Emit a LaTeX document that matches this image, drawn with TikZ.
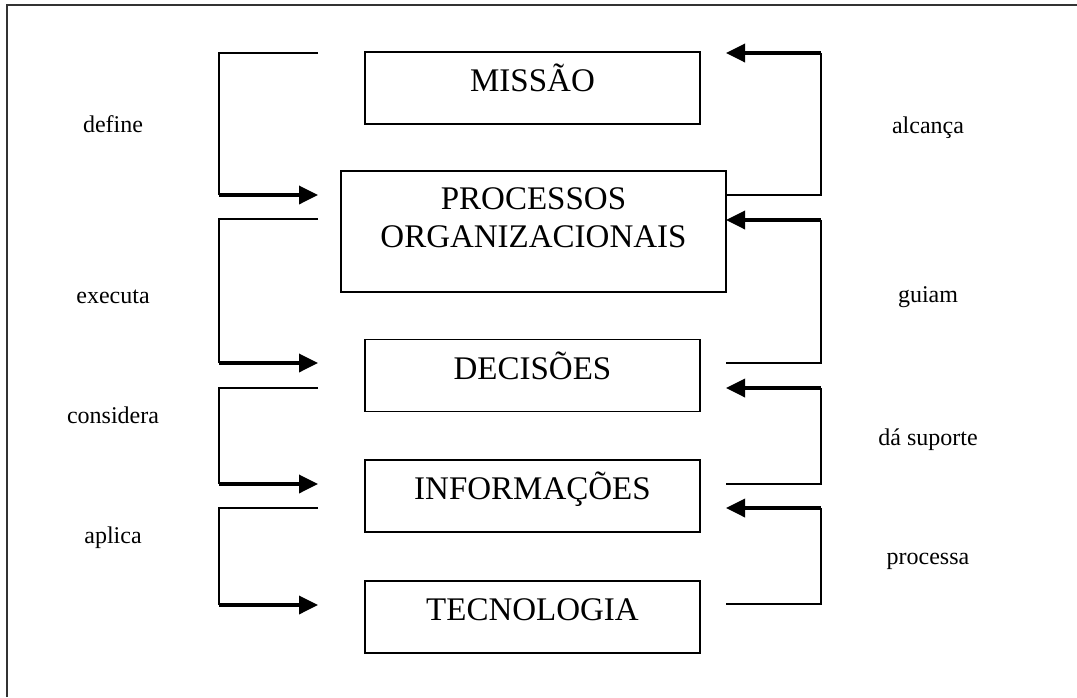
\documentclass[tikz,border=0pt]{standalone}
\usepackage{fontspec}
\setmainfont{Liberation Serif}
\usetikzlibrary{arrows.meta}

\begin{document}
\begin{tikzpicture}[x=1pt,y=-1pt,
  caixa/.style={draw,line width=1.6pt,minimum width=335pt,minimum height=72pt,inner sep=0pt,
    font=\fontsize{33}{38}\selectfont,text height=22pt,text depth=15pt},
  rotulo/.style={font=\fontsize{24}{28}\selectfont,text height=16pt,text depth=5pt},
  fio/.style={line width=1.3pt},
  seta/.style={line width=3.5pt,-{Triangle[length=19pt,width=18pt]}}]
\useasboundingbox (0,0) rectangle (1077,697);
\draw[line width=2pt,black!80] (7,697) -- (7,5) -- (1077,5);

% caixas
\node[caixa] (missao) at (532.5,88) {MISSÃO};
\node[caixa,minimum width=385pt,minimum height=121pt,align=center,text height={},text depth=27pt]
  (proc) at (533.5,231.5) {PROCESSOS\\ORGANIZACIONAIS};
\node[caixa] (decis) at (532.5,375.5) {DECISÕES};
\node[caixa] (info) at (532.5,496) {INFORMAÇÕES};
\node[caixa] (tecno) at (532.5,617) {TECNOLOGIA};

% setas da esquerda
\foreach \a/\b/\n in {53/195/1,219/363/2,388/484/3,508/605/4}
{
    \coordinate (ea\n) at (318,\a);
    \coordinate (eb\n) at (219,\a);
    \coordinate (ec\n) at (219,\b);
    \coordinate (ed\n) at (318,\b);
    \draw[fio] (ea\n) -- (eb\n) -- (ec\n);
    \draw[seta] (ec\n) -- (ed\n);
}
% setas da direita
\foreach \a/\b/\n in {195/53/1,363/220/2,484/388/3,604/508/4}
{
    \coordinate (da\n) at (726,\a);
    \coordinate (db\n) at (821,\a);
    \coordinate (dc\n) at (821,\b);
    \coordinate (dd\n) at (726,\b);
    \draw[fio] (da\n) -- (db\n) -- (dc\n);
    \draw[seta] (dc\n) -- (dd\n);
}

% rotulos
\foreach \y/\t/\n in {127/define/1,298/executa/2,418/considera/3,538/aplica/4}
{
    \node[rotulo] (re\n) at (113,\y) {\t};
}
\foreach \y/\t/\n in {128/alcança/1,297/guiam/2,440/dá suporte/3,559/processa/4}
{
    \node[rotulo] (rd\n) at (928,\y) {\t};
}
\end{tikzpicture}
\end{document}
